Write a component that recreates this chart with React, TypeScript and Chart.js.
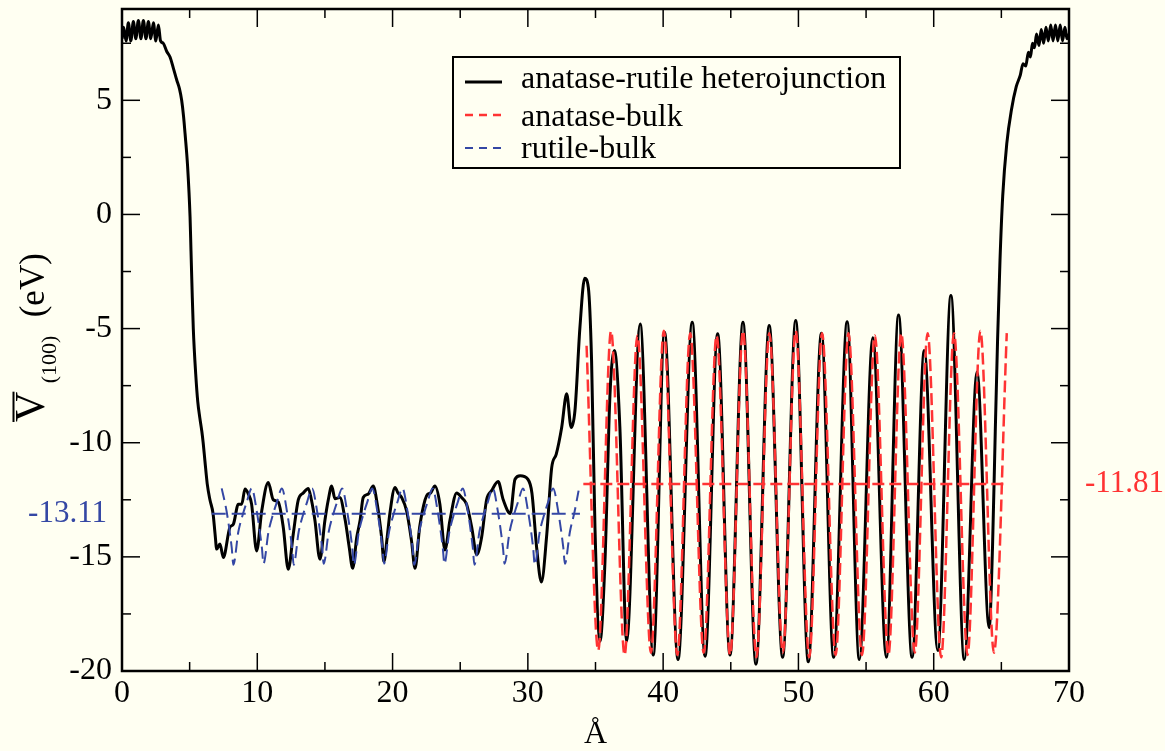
import React, { useEffect, useRef } from "react";
import { Chart, registerables } from "chart.js";

Chart.register(...registerables);

const FONT = '"Liberation Serif", "Times New Roman", "DejaVu Serif", serif';
const BG = "#fffff2";
const BLACK = "#000000";
const RED = "#ff3333";
const BLUE = "#3447a4";

// anatase-rutile heterojunction: position (Å) and plane-averaged potential (eV)
const heteroX = [
  0.0, 0.12, 0.3, 0.47, 0.65, 0.84, 1.02, 1.21, 1.4, 1.58, 1.77, 1.95, 2.13, 2.32, 2.5, 2.69, 2.85,
  3.05, 3.3, 3.55, 3.8, 4.04, 4.25, 4.41, 4.55, 4.66, 4.85, 5.03, 5.1, 5.18, 5.27, 5.45, 5.6, 5.75,
  5.9, 6.0, 6.13, 6.3, 6.5, 6.73, 6.88, 7.0, 7.24, 7.49, 7.98, 8.23, 8.6, 8.85, 9.09, 9.34, 9.58,
  9.95, 10.33, 10.81, 11.18, 11.55, 11.92, 12.29, 12.66, 13.03, 13.4, 13.77, 14.0, 14.26, 14.63,
  15.0, 15.25, 15.5, 15.74, 16.1, 16.5, 16.8, 17.05, 17.35, 17.6, 17.83, 18.2, 18.57, 18.87, 19.19,
  19.36, 19.6, 19.8, 20.18, 20.4, 20.67, 21.04, 21.4, 21.66, 22.0, 22.4, 22.6, 22.81, 23.13, 23.5,
  23.87, 24.24, 24.74, 25.1, 25.47, 25.85, 26.22, 26.58, 26.95, 27.32, 27.8, 28.18, 28.7, 29.05,
  29.43, 30.0, 30.3, 30.65, 31.0, 31.4, 31.76, 32.1, 32.5, 32.87, 33.2, 33.48, 33.85, 34.2, 34.47,
  34.71, 34.96, 35.33, 35.7, 36.07, 36.4, 36.8, 37.3, 38.3, 39.27, 40.1, 41.1, 42.15, 43.1, 44.03,
  44.94, 45.9, 46.86, 47.84, 48.83, 49.8, 50.73, 51.7, 52.6, 53.6, 54.5, 55.5, 56.5, 57.4, 58.4,
  59.3, 60.3, 61.27, 62.26, 63.2, 64.1, 64.35, 64.55, 64.72, 64.9, 65.1, 65.4, 65.75, 66.1, 66.4,
  66.6, 66.8, 67.0, 67.15, 67.3, 67.45, 67.6, 67.78, 67.95, 68.12, 68.3, 68.47, 68.65, 68.82, 69.0,
  69.17, 69.35, 69.52, 69.7, 69.85, 70.0,
];
const heteroY = [
  7.7, 8.2, 7.6, 8.4, 7.6, 8.45, 7.7, 8.5, 7.7, 8.5, 7.7, 8.45, 7.7, 8.4, 7.6, 8.3, 7.6,
  7.5, 7.15, 6.9, 6.4, 5.9, 5.5, 5.0, 4.3, 3.55, 2.1, -0.1, -1.6, -3.3, -5.0, -7.0, -8.2, -8.9,
  -9.5, -10.0, -10.8, -11.8, -12.5, -13.1, -14.0, -14.66, -14.44, -15.03, -13.7, -13.57, -12.69, -12.69, -12.03, -12.25, -12.69,
  -14.74, -12.98, -11.74, -12.5, -12.6, -13.7, -15.54, -14.0, -12.5, -12.2, -12.0, -12.5, -13.4, -15.1,
  -13.4, -12.5, -11.9, -12.45, -12.4, -13.4, -14.6, -15.5, -14.15, -13.4, -12.4, -12.25, -11.9, -12.7, -14.15,
  -15.2, -14.15, -13.1, -11.96, -12.2, -12.4, -13.0, -14.3, -15.5, -13.7, -12.5, -12.25, -12.2, -11.9, -12.7,
  -14.7, -13.4, -12.2, -12.4, -12.7, -13.7, -14.9, -14.15, -12.5, -12.1, -11.7, -12.5, -13.1, -11.6,
  -11.45, -11.6, -12.2, -14.6, -16.1, -14.0, -11.1, -10.5, -9.33, -7.86, -9.33, -8.6, -4.94, -2.8, -3.2,
  -6.4, -13.7, -18.7, -15.2, -7.9, -5.96, -9.3, -18.7, -4.8, -19.3, -5.16, -19.5, -4.72, -19.35, -5.23,
  -19.3, -4.72, -19.7, -4.87, -19.4, -4.65, -19.6, -5.2, -19.4, -4.7, -19.5, -5.4, -19.4, -4.4, -19.4,
  -5.96, -19.1, -3.55, -19.5, -6.9, -18.1, -14.5, -9.5, -5.5, -2.0, 0.8, 3.1, 4.6, 5.6, 6.1,
  6.6, 6.5, 7.1, 6.9, 7.5, 7.3, 7.9, 7.4, 8.1, 7.5, 8.2, 7.6, 8.3, 7.6, 8.3,
  7.6, 8.3, 7.6, 8.2, 7.7, 7.9,
];

// anatase bulk
const anataseBulkX = [
  34.34, 35.2, 36.15, 37.15, 38.1, 39.1, 40.05, 41.05, 42.0, 43.0, 43.95, 44.95, 45.9, 46.9, 47.85,
  48.85, 49.8, 50.8, 51.75, 52.75, 53.7, 54.7, 55.65, 56.65, 57.6, 58.6, 59.55, 60.55, 61.5, 62.5,
  63.45, 64.45, 65.4,
];
const anataseBulkY = [
  -5.75, -19.1, -5.1, -19.3, -5.3, -19.2, -5.1, -19.3, -5.2, -19.2, -5.3, -19.3, -5.1, -19.4, -5.2,
  -19.2, -5.1, -19.4, -5.2, -19.3, -5.2, -19.3, -5.3, -19.3, -5.2, -19.2, -5.2, -19.4, -5.2, -19.3,
  -5.1, -19.2, -5.2,
];

// rutile bulk
const rutileBulkX = [
  7.37, 7.73, 8.11, 8.23, 8.6, 8.95, 9.22, 9.59, 9.96, 10.34, 10.46, 10.83, 11.18, 11.45, 11.82,
  12.19, 12.57, 12.69, 13.06, 13.41, 13.68, 14.05, 14.42, 14.79, 14.91, 15.28, 15.63, 15.9, 16.27,
  16.64, 17.02, 17.14, 17.51, 17.86, 18.13, 18.5, 18.87, 19.25, 19.37, 19.74, 20.09, 20.36, 20.73,
  21.1, 21.48, 21.6, 21.97, 22.32, 22.59, 22.96, 23.33, 23.71, 23.83, 24.2, 24.55, 24.82, 25.19,
  25.56, 25.93, 26.05, 26.42, 26.77, 27.04, 27.41, 27.78, 28.16, 28.28, 28.65, 29.0, 29.27, 29.64,
  30.01, 30.39, 30.51, 30.88, 31.23, 31.5, 31.87, 32.24, 32.62, 32.74, 33.11, 33.46, 33.75,
];
const rutileBulkY = [
  -12.0, -13.0, -14.6, -15.35, -13.9, -13.1, -12.6, -12.0, -13.0, -14.6, -15.3, -13.9, -13.1, -12.6, -12.0,
  -13.0, -14.6, -15.35, -13.9, -13.1, -12.6, -12.0, -13.0, -14.6, -15.3, -13.9, -13.1, -12.6, -12.0,
  -13.0, -14.6, -15.35, -13.9, -13.1, -12.6, -12.0, -13.0, -14.6, -15.3, -13.9, -13.1, -12.6, -12.0,
  -13.0, -14.6, -15.35, -13.9, -13.1, -12.6, -12.0, -13.0, -14.6, -15.3, -13.9, -13.1, -12.6, -12.0,
  -13.0, -14.6, -15.35, -13.9, -13.1, -12.6, -12.0, -13.0, -14.6, -15.3, -13.9, -13.1, -12.6, -12.0,
  -13.0, -14.6, -15.35, -13.9, -13.1, -12.6, -12.0, -13.0, -14.6, -15.3, -13.9, -13.0, -12.1,
];

// average lines
const anataseAvgX = [34.1, 65.45];
const anataseAvgValue = -11.81;
const rutileAvgX = [6.63, 33.85];
const rutileAvgValue = -13.11;

// axes
const xTicks = [0, 10, 20, 30, 40, 50, 60, 70];
const xMinorTicks = [5, 15, 25, 35, 45, 55, 65];
const yTicks = [-20, -15, -10, -5, 0, 5];
const yMinorTicks = [-17.5, -12.5, -7.5, -2.5, 2.5, 7.5];
const xRange = [0, 70];
const yRange = [-20, 9];

const legendLabels = ["anatase-rutile heterojunction", "anatase-bulk", "rutile-bulk"];
const legendColors = [BLACK, RED, BLUE];
const legendDashes = [[], [8, 6], [8, 6]];
const legendWidths = [3, 2.5, 2];

const toPoints = (xs: number[], ys: number[]) => xs.map((x, i) => ({ x, y: ys[i] }));

const decorPlugin = {
  id: "decor",
  beforeDraw(chart: any) {
    const { ctx, width, height } = chart;
    ctx.save();
    ctx.fillStyle = BG;
    ctx.fillRect(0, 0, width, height);
    ctx.restore();
  },
  afterDraw(chart: any) {
    const { ctx, chartArea: a, scales } = chart;
    const xs = scales.x;
    const ys = scales.y;
    ctx.save();
    ctx.setLineDash([]);
    ctx.strokeStyle = "#000";
    ctx.lineWidth = 1.5;
    const seg = (x1: number, y1: number, x2: number, y2: number) => {
      ctx.beginPath();
      ctx.moveTo(x1, y1);
      ctx.lineTo(x2, y2);
      ctx.stroke();
    };
    const MAJ = 18;
    const MIN = 9;
    xTicks.forEach((v) => {
      const p = xs.getPixelForValue(v);
      seg(p, a.bottom, p, a.bottom - MAJ);
      seg(p, a.top, p, a.top + MAJ);
    });
    xMinorTicks.forEach((v) => {
      const p = xs.getPixelForValue(v);
      seg(p, a.bottom, p, a.bottom - MIN);
      seg(p, a.top, p, a.top + MIN);
    });
    yTicks.forEach((v) => {
      const p = ys.getPixelForValue(v);
      seg(a.left, p, a.left + MAJ, p);
      seg(a.right, p, a.right - MAJ, p);
    });
    yMinorTicks.forEach((v) => {
      const p = ys.getPixelForValue(v);
      seg(a.left, p, a.left + MIN, p);
      seg(a.right, p, a.right - MIN, p);
    });
    // frame
    ctx.lineWidth = 2.5;
    ctx.strokeRect(a.left, a.top, a.right - a.left, a.bottom - a.top);

    // legend
    const lx = a.left + 331;
    const ly = a.top + 48;
    ctx.lineWidth = 2;
    ctx.strokeRect(lx, ly, 447, 111);
    const lineYs = [ly + 25, ly + 58, ly + 91];
    const textYs = [ly + 31, ly + 69, ly + 101];
    ctx.font = `32px ${FONT}`;
    ctx.textAlign = "left";
    ctx.textBaseline = "alphabetic";
    legendLabels.forEach((lab, i) => {
      ctx.strokeStyle = legendColors[i];
      ctx.lineWidth = legendWidths[i];
      ctx.setLineDash(legendDashes[i]);
      seg(lx + 12, lineYs[i], lx + 49, lineYs[i]);
      ctx.setLineDash([]);
      ctx.fillStyle = "#000";
      ctx.fillText(lab, lx + 68, textYs[i]);
    });

    // average annotations
    ctx.font = `31px ${FONT}`;
    ctx.textBaseline = "middle";
    ctx.fillStyle = BLUE;
    ctx.textAlign = "right";
    ctx.fillText(rutileAvgValue.toFixed(2), a.left - 15, ys.getPixelForValue(rutileAvgValue));
    ctx.fillStyle = RED;
    ctx.textAlign = "left";
    ctx.fillText(anataseAvgValue.toFixed(2), a.right + 16, ys.getPixelForValue(anataseAvgValue));

    // y axis title: V-bar (100) (eV)
    const midY = (a.top + a.bottom) / 2;
    ctx.translate(43.5, midY + 82);
    ctx.rotate(-Math.PI / 2);
    ctx.fillStyle = "#000";
    ctx.strokeStyle = "#000";
    ctx.textAlign = "left";
    ctx.textBaseline = "alphabetic";
    ctx.font = `42px ${FONT}`;
    ctx.fillText("V", 0, 0);
    const vw = ctx.measureText("V").width;
    ctx.lineWidth = 2;
    seg(0, -30, vw, -30);
    ctx.font = `22px ${FONT}`;
    ctx.fillText("(100)", 38.7, 12.5);
    ctx.font = `35px ${FONT}`;
    ctx.fillText("(eV)", 104.7, 0);
    ctx.restore();
  },
};

export default function App() {
  const ref = useRef<HTMLCanvasElement>(null);
  useEffect(() => {
    if (!ref.current) return;
    const chart = new Chart(ref.current, {
      type: "line",
      data: {
        datasets: [
          {
            label: legendLabels[0],
            data: toPoints(heteroX, heteroY),
            borderColor: BLACK,
            borderWidth: 3,
            pointRadius: 0,
            cubicInterpolationMode: "monotone",
            borderJoinStyle: "round",
            fill: false,
            order: 3,
          },
          {
            label: legendLabels[1],
            data: toPoints(anataseBulkX, anataseBulkY),
            borderColor: RED,
            borderWidth: 2.5,
            borderDash: [12, 5],
            pointRadius: 0,
            cubicInterpolationMode: "monotone",
            fill: false,
            order: 2,
          },
          {
            label: legendLabels[2],
            data: toPoints(rutileBulkX, rutileBulkY),
            borderColor: BLUE,
            borderWidth: 2,
            borderDash: [12, 6],
            pointRadius: 0,
            cubicInterpolationMode: "monotone",
            fill: false,
            order: 2,
          },
          {
            label: "anatase-bulk average",
            data: anataseAvgX.map((x) => ({ x, y: anataseAvgValue })),
            borderColor: RED,
            borderWidth: 2.5,
            borderDash: [12, 5],
            pointRadius: 0,
            fill: false,
            order: 1,
          },
          {
            label: "rutile-bulk average",
            data: rutileAvgX.map((x) => ({ x, y: rutileAvgValue })),
            borderColor: BLUE,
            borderWidth: 2,
            borderDash: [14, 6],
            pointRadius: 0,
            fill: false,
            order: 1,
          },
        ],
      },
      options: {
        animation: false,
        responsive: false,
        devicePixelRatio: 1,
        events: [],
        layout: { padding: { top: 9, right: 96, left: 0, bottom: 0 } },
        plugins: { legend: { display: false }, tooltip: { enabled: false } },
        scales: {
          x: {
            type: "linear",
            position: "bottom",
            min: xRange[0],
            max: xRange[1],
            afterBuildTicks: (s: any) => {
              s.ticks = xTicks.map((v) => ({ value: v }));
            },
            afterFit: (s: any) => {
              s.height = 80;
              s.paddingLeft = 0;
              s.paddingRight = 0;
            },
            ticks: {
              color: "#000",
              font: { family: FONT, size: 32 },
              padding: 3,
              maxRotation: 0,
              autoSkip: false,
              callback: (v: any) => String(v),
            },
            grid: { display: false, drawTicks: false },
            border: { display: false },
            title: {
              display: true,
              text: "Å",
              color: "#000",
              font: { family: FONT, size: 32, lineHeight: 1 },
              padding: 0,
            },
          },
          y: {
            type: "linear",
            position: "left",
            min: yRange[0],
            max: yRange[1],
            afterBuildTicks: (s: any) => {
              s.ticks = yTicks.map((v) => ({ value: v }));
            },
            afterFit: (s: any) => {
              s.width = 122;
              s.paddingTop = 0;
              s.paddingBottom = 0;
            },
            ticks: {
              color: "#000",
              font: { family: FONT, size: 32 },
              padding: 10,
              autoSkip: false,
              callback: (v: any) => String(v),
            },
            grid: { display: false, drawTicks: false },
            border: { display: false },
          },
        },
      },
      plugins: [decorPlugin],
    } as any);
    return () => chart.destroy();
  }, []);
  return (
    <div style={{ position: "fixed", left: 0, top: 0, width: 1165, height: 751, background: BG }}>
      <canvas ref={ref} width={1165} height={751} style={{ display: "block" }} />
    </div>
  );
}
